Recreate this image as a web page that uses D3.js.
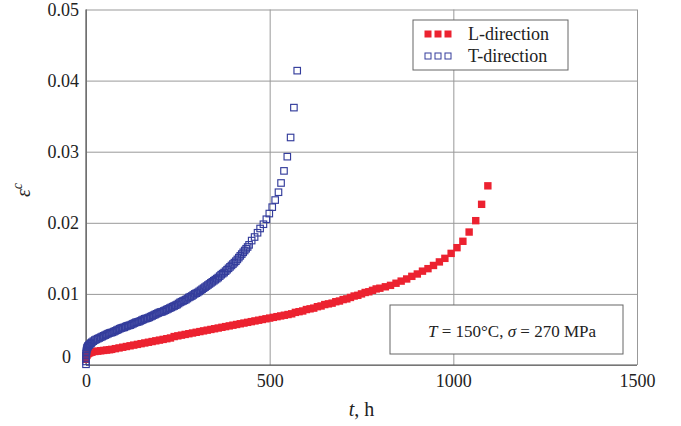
<!DOCTYPE html>
<html>
<head>
<meta charset="utf-8">
<script src="https://cdn.jsdelivr.net/npm/d3@7"></script>
<style>
  body { margin: 0; background: #fff; }
  text { font-family: "Liberation Serif", "DejaVu Serif", serif; fill: #222; }
</style>
</head>
<body>
<div id="chart"></div>
<script>
const width = 681;
const height = 426;
const margin = { top: 9.5, left: 86, bottom: 61, right: 44 };
const iwidth = width - margin.left - margin.right;
const iheight = height - margin.top - margin.bottom;

// L-direction (red, filled)
const tL = [0, 1, 3, 6, 10, 16, 24, 32, 40, 48, 56, 64,
  70, 80, 90, 100, 110, 120, 130, 140, 150, 160, 170, 180, 190, 200,
  210, 220, 230, 240, 250, 260, 270, 280, 290, 300, 310, 320, 330, 340,
  350, 360, 370, 380, 390, 400, 410, 420, 430, 440, 450, 460, 470, 480,
  490, 500, 510, 520, 530, 540, 550, 560, 570, 580, 590, 600, 610, 620,
  630, 640, 650, 660, 670, 680, 690, 700, 710, 720, 730, 740, 750, 760,
  770, 780, 790, 800, 815, 829, 844, 858, 873, 887, 902, 916, 931, 946,
  962, 977, 994, 1010, 1026, 1043, 1061, 1077, 1094];
const epsL = [0.0008, 0.0012, 0.0014, 0.0016, 0.0017, 0.0018, 0.0019, 0.00195, 0.0020, 0.00205, 0.0021, 0.00215,
  0.0022, 0.0023, 0.0024, 0.0025, 0.0026, 0.0027, 0.0028, 0.0029, 0.0030, 0.0031, 0.0032, 0.0033, 0.0034, 0.0035,
  0.0036, 0.0037, 0.0038, 0.0040, 0.0041, 0.0042, 0.0043, 0.0044, 0.0045, 0.0046, 0.0047, 0.0048, 0.0049, 0.0050,
  0.0051, 0.0052, 0.0053, 0.0054, 0.0055, 0.0056, 0.0057, 0.0058, 0.0059, 0.0060, 0.0061, 0.0062, 0.0063, 0.0064,
  0.0065, 0.0066, 0.0067, 0.0068, 0.0069, 0.0070, 0.0071, 0.0072, 0.0074, 0.0075, 0.0076, 0.0078, 0.0079, 0.0080,
  0.0082, 0.0083, 0.0085, 0.0086, 0.0087, 0.0089, 0.0090, 0.0092, 0.0093, 0.0095, 0.0097, 0.0098, 0.0100, 0.0102,
  0.0103, 0.0105, 0.0107, 0.0108, 0.0110, 0.0112, 0.0115, 0.0118, 0.0121, 0.01247, 0.0128, 0.0132, 0.01355, 0.0140,
  0.0145, 0.0150, 0.0157, 0.0165, 0.0174, 0.0187, 0.0203, 0.0226, 0.0252];

// T-direction (blue, hollow)
const tT = [0, 0, 0, 0, 0.5, 1, 1.5, 2, 3, 4, 5, 6, 8, 10, 12, 14,
  16, 20, 24, 28, 32, 36, 40, 44, 48, 52, 56, 60, 64, 68, 72, 76, 80, 84, 88, 92, 96,
  100, 104, 108, 112, 116, 120, 124, 128, 132, 136, 140, 144, 148, 152, 156, 160, 164, 168, 172, 176,
  180, 184, 188, 192, 196, 200, 204, 208, 212, 216, 220, 224, 228, 232, 236, 240, 244, 248, 252, 256,
  260, 264, 268, 272, 276, 280, 284, 288, 292, 296, 300, 304, 308, 312, 316, 320, 324, 328, 332, 336,
  340, 344, 348, 352, 356, 360, 364, 368, 372, 376, 380, 384, 388, 392, 396, 400, 404, 408, 412, 416,
  420, 424, 428, 432, 436, 440, 444,
  451, 459, 467, 474, 483, 491, 499, 507, 515, 524, 531, 539, 548, 557, 566, 575];
const epsT = [0.0001, 0.0005, 0.0009, 0.0013, 0.0016, 0.0018, 0.0020, 0.0022, 0.0024, 0.0025, 0.0026, 0.0027, 0.0028, 0.0029, 0.0030, 0.0031,
  0.0032, 0.00335, 0.0035, 0.0036, 0.0037, 0.0038, 0.0039, 0.0040, 0.0041, 0.0042, 0.0043, 0.0044, 0.0045, 0.00455, 0.0046, 0.0047, 0.0048, 0.0049, 0.0050, 0.0051, 0.0052,
  0.00525, 0.0053, 0.0054, 0.0055, 0.00555, 0.0056, 0.0057, 0.0058, 0.0059, 0.0060, 0.00605, 0.0061, 0.0062, 0.0063, 0.0064, 0.0065, 0.00655, 0.0066, 0.0067, 0.0068,
  0.0069, 0.0070, 0.0071, 0.0072, 0.0073, 0.0074, 0.00745, 0.0075, 0.0076, 0.0077, 0.0078, 0.0079, 0.0080, 0.0081, 0.0082, 0.0083, 0.0084, 0.0085, 0.00865, 0.0088,
  0.0089, 0.0090, 0.0091, 0.0092, 0.00935, 0.0095, 0.0096, 0.0097, 0.00985, 0.0100, 0.0101, 0.0102, 0.01035, 0.0105, 0.01065, 0.0108, 0.01095, 0.0111, 0.01125, 0.0114,
  0.01155, 0.0117, 0.01185, 0.0120, 0.01215, 0.0123, 0.0125, 0.0127, 0.01285, 0.0130, 0.0132, 0.0134, 0.0136, 0.0138, 0.0140, 0.0142, 0.0144, 0.0146, 0.01485, 0.0151,
  0.01535, 0.0156, 0.01585, 0.0161, 0.01635, 0.0166, 0.0169,
  0.0175, 0.0180, 0.0186, 0.0192, 0.0198, 0.0205, 0.0213, 0.0222, 0.0232, 0.0243, 0.0256, 0.0273, 0.0293, 0.0320, 0.0362, 0.0414];

const xTicks = [0, 500, 1000, 1500];
const xTickLabels = ['0', '500', '1000', '1500'];
const yTicks = [0, 0.01, 0.02, 0.03, 0.04, 0.05];
const yTickLabels = ['0', '0.01', '0.02', '0.03', '0.04', '0.05'];
const seriesNames = ['L-direction', 'T-direction'];

const red = '#ec2230';
const blue = '#343d9c';

const svg = d3.select('#chart').append('svg')
  .attr('width', width)
  .attr('height', height);

svg.append('rect').attr('width', width).attr('height', height).attr('fill', '#fff');

const g = svg.append('g')
  .attr('transform', `translate(${margin.left},${margin.top})`);

const x = d3.scaleLinear().domain([0, 1500]).range([0, iwidth]);
const y = d3.scaleLinear().domain([0, 0.05]).range([iheight, 0]);

// grid
g.append('g')
  .attr('class', 'xgrid')
  .attr('transform', `translate(0,${iheight})`)
  .call(d3.axisBottom(x).tickValues(xTicks).tickSize(-iheight).tickFormat(''))
  .call((s) => s.select('.domain').remove())
  .selectAll('line').attr('stroke', '#999').attr('stroke-width', 1);

g.append('g')
  .attr('class', 'ygrid')
  .call(d3.axisLeft(y).tickValues(yTicks).tickSize(-iwidth).tickFormat(''))
  .call((s) => s.select('.domain').remove())
  .selectAll('line').attr('stroke', '#999').attr('stroke-width', 1);

// axis lines
g.append('line').attr('x1', 0).attr('x2', 0).attr('y1', 0).attr('y2', iheight)
  .attr('stroke', '#555').attr('stroke-width', 1.2);
g.append('line').attr('x1', 0).attr('x2', iwidth).attr('y1', iheight).attr('y2', iheight)
  .attr('stroke', '#555').attr('stroke-width', 1.2);

// tick labels
const xAxis = g.append('g')
  .attr('transform', `translate(0,${iheight})`)
  .call(d3.axisBottom(x).tickValues(xTicks).tickSize(0).tickPadding(9)
    .tickFormat((d, i) => xTickLabels[i]));
xAxis.select('.domain').remove();
xAxis.selectAll('text').attr('font-size', 18).attr('fill', '#222')
  .attr('font-family', '"Liberation Serif", serif');

const yAxis = g.append('g')
  .call(d3.axisLeft(y).tickValues(yTicks).tickSize(0).tickPadding(7)
    .tickFormat((d, i) => yTickLabels[i]));
yAxis.select('.domain').remove();
yAxis.selectAll('text').attr('font-size', 18).attr('fill', '#222')
  .attr('font-family', '"Liberation Serif", serif');
// the zero label sits up and left of the corner
yAxis.selectAll('.tick').filter((d) => d === 0).select('text')
  .attr('dx', -8).attr('dy', '-0.12em');

// data
const dataL = tL.map((t, i) => ({ t: t, e: epsL[i] }));
const dataT = tT.map((t, i) => ({ t: t, e: epsT[i] }));

const sL = 7.4;
g.append('g').selectAll('rect').data(dataL).enter().append('rect')
  .attr('x', (d) => x(d.t) - sL / 2)
  .attr('y', (d) => y(d.e) - sL / 2)
  .attr('width', sL).attr('height', sL)
  .attr('fill', red);

const sT = 6.5;
g.append('g').selectAll('rect').data(dataT).enter().append('rect')
  .attr('x', (d) => x(d.t) - sT / 2)
  .attr('y', (d) => y(d.e) - sT / 2)
  .attr('width', sT).attr('height', sT)
  .attr('fill', 'none')
  .attr('stroke', blue).attr('stroke-width', 1.15);

// legend
const lg = svg.append('g').attr('transform', 'translate(413,20)');
lg.append('rect').attr('width', 155).attr('height', 50)
  .attr('fill', '#fff').attr('stroke', '#666').attr('stroke-width', 1);
[0, 1, 2].forEach((k) => {
  lg.append('rect').attr('x', 11.5 + k * 10).attr('y', 10.5).attr('width', 7).attr('height', 7)
    .attr('fill', red);
  lg.append('rect').attr('x', 12 + k * 10).attr('y', 33).attr('width', 6).attr('height', 6)
    .attr('fill', 'none').attr('stroke', blue).attr('stroke-width', 1);
});
lg.append('text').attr('x', 55).attr('y', 20).attr('font-size', 18).text(seriesNames[0]);
lg.append('text').attr('x', 55).attr('y', 42).attr('font-size', 18).text(seriesNames[1]);

// conditions box
const cb = svg.append('g').attr('transform', 'translate(390,305)');
cb.append('rect').attr('width', 233).attr('height', 49)
  .attr('fill', '#fff').attr('stroke', '#666').attr('stroke-width', 1);
const ct = cb.append('text').attr('x', 122).attr('y', 31.5).attr('font-size', 17)
  .attr('text-anchor', 'middle');
ct.append('tspan').attr('font-style', 'italic').text('T');
ct.append('tspan').text(' = 150°C, ');
ct.append('tspan').attr('font-style', 'italic').text('σ');
ct.append('tspan').text(' = 270 MPa');

// axis titles
const xt = svg.append('text')
  .attr('x', margin.left + iwidth / 2).attr('y', 416)
  .attr('text-anchor', 'middle').attr('font-size', 20);
xt.append('tspan').attr('font-style', 'italic').text('t');
xt.append('tspan').text(', h');

const yt = svg.append('text')
  .attr('transform', 'translate(30,190) rotate(-90)')
  .attr('text-anchor', 'middle').attr('font-size', 20);
yt.append('tspan').attr('font-style', 'italic').text('ε');
yt.append('tspan').attr('font-style', 'italic').attr('font-size', 14).attr('dy', -8).text('c');
</script>
</body>
</html>
